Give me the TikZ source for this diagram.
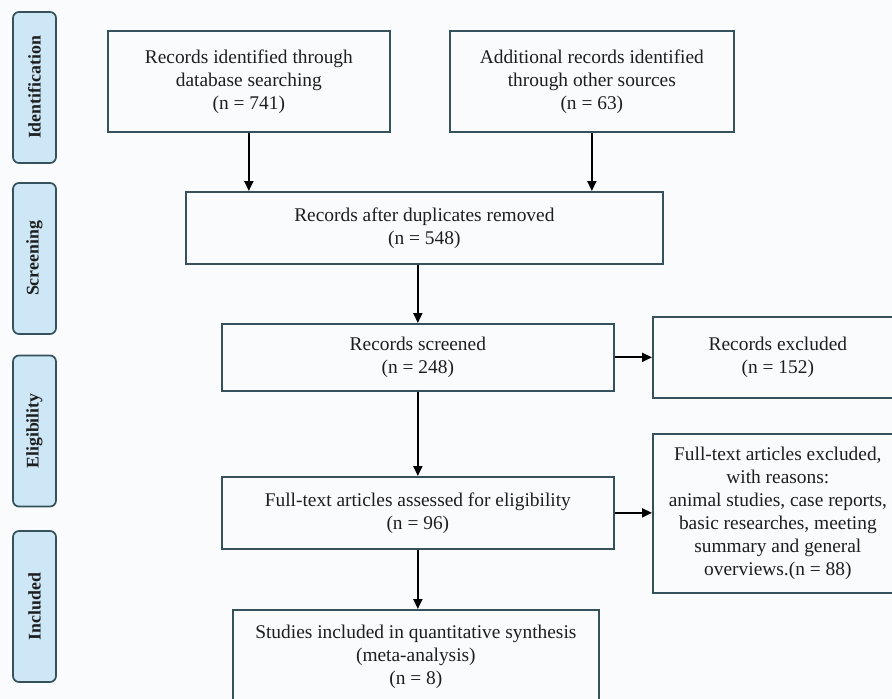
\documentclass[tikz,border=0pt]{standalone}
\usepackage{fontspec}
\setmainfont{Liberation Serif}
\usetikzlibrary{arrows.meta}
\definecolor{bgcol}{HTML}{FAFBFD}
\definecolor{bordercol}{HTML}{35525C}
\definecolor{labfill}{HTML}{CDE7F6}
\definecolor{txtcol}{HTML}{1E1E1E}
\tikzset{
  box/.style={draw=bordercol, line width=1.7pt, align=center, inner sep=0pt,
    text=txtcol, font=\fontsize{19.4}{23}\selectfont},
  phase/.style={draw=bordercol, line width=1.7pt, fill=labfill, rounded corners=6pt,
    rotate=90, minimum width=151pt, minimum height=43pt, inner sep=0pt,
    text=txtcol, font=\bfseries\fontsize{17.8}{20}\selectfont},
  conn/.style={line width=1.9pt, -{Triangle[length=10pt,width=9pt]}}
}
\begin{document}
\begin{tikzpicture}[x=1pt,y=1pt]
\fill[bgcol] (0,0) rectangle (892,-699);
\useasboundingbox (0,0) rectangle (892,-699);
% phase labels
\node[phase] (pid) at (34.5,-87.5) {Identification};
\node[phase] (psc) at (34.5,-258.5) {Screening};
\node[phase] (pel) at (34.5,-431) {Eligibility};
\node[phase] (pin) at (34.5,-606.5) {Included};
% boxes
\node[box, anchor=north west, minimum width=282pt, minimum height=101pt] (b1) at (107,-30)
  {Records identified through\\database searching\\(n = 741)};
\node[box, anchor=north west, minimum width=284pt, minimum height=101pt] (b2) at (449,-30)
  {Additional records identified\\through other sources\\(n = 63)};
\node[box, anchor=north west, minimum width=477pt, minimum height=72pt] (dup) at (185,-191)
  {Records after duplicates removed\\(n = 548)};
\node[box, anchor=north west, minimum width=392pt, minimum height=67pt] (scr) at (221,-323)
  {Records screened\\(n = 248)};
\node[box, anchor=north west, minimum width=250pt, minimum height=81pt] (exc) at (652,-316)
  {Records excluded\\(n = 152)};
\node[box, anchor=north west, minimum width=392pt, minimum height=72pt] (ft) at (221,-476)
  {Full-text articles assessed for eligibility\\(n = 96)};
\node[box, anchor=north west, minimum width=250pt, minimum height=159pt] (ftx) at (652,-433)
  {Full-text articles excluded,\\with reasons:\\animal studies, case reports,\\basic researches, meeting\\summary and general\\overviews.(n = 88)};
\node[box, anchor=north west, minimum width=366pt, minimum height=94pt] (st) at (232,-609)
  {Studies included in quantitative synthesis\\(meta-analysis)\\(n = 8)};
% connectors
\draw[conn] (b1.south) -- (b1.south |- dup.north);
\draw[conn] (b2.south) -- (b2.south |- dup.north);
\draw[conn] (scr.north |- dup.south) -- (scr.north);
\draw[conn] (scr.east) -- (scr.east -| exc.west);
\draw[conn] (scr.south) -- (ft.north);
\draw[conn] (ft.east) -- (ft.east -| ftx.west);
\draw[conn] (ft.south) -- (ft.south |- st.north);
\end{tikzpicture}
\end{document}
